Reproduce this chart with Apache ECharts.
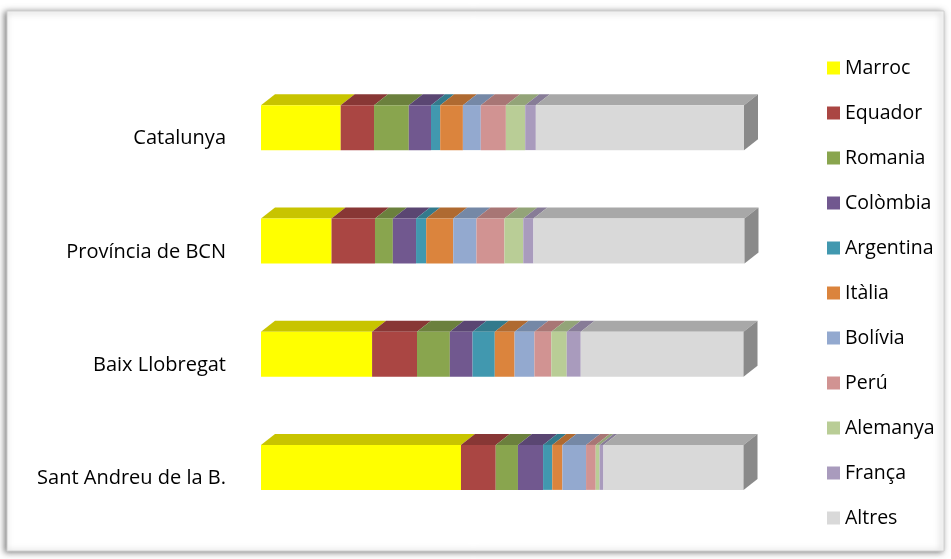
<!DOCTYPE html>
<html>
<head>
<meta charset="utf-8">
<script src="https://cdn.jsdelivr.net/npm/echarts@6/dist/echarts.min.js"></script>
<style>html,body{margin:0;padding:0;background:#fff;}#c{width:951px;height:559px;}</style>
</head>
<body>
<div id="c"></div>
<script>
const categories = ['Catalunya', 'Província de BCN', 'Baix Llobregat', 'Sant Andreu de la B.'];
const seriesNames = ['Marroc','Equador','Romania','Colòmbia','Argentina','Itàlia','Bolívia','Perú','Alemanya','França','Altres'];
const marroc    = [16.5, 14.6, 23.0, 41.4];
const equador   = [6.9, 9.0, 9.3, 7.2];
const romania   = [7.2, 3.7, 6.8, 4.6];
const colombia  = [4.6, 4.8, 4.7, 5.2];
const argentina = [1.9, 2.1, 4.6, 1.9];
const italia    = [4.7, 5.6, 4.1, 2.1];
const bolivia   = [3.7, 4.8, 4.1, 4.9];
const peru      = [5.2, 5.8, 3.5, 2.0];
const alemanya  = [4.0, 3.9, 3.2, 0.8];
const franca    = [2.2, 2.1, 2.9, 0.8];
const altres    = [43.1, 43.7, 33.7, 29.0];
const seriesValues = [marroc, equador, romania, colombia, argentina, italia, bolivia, peru, alemanya, franca, altres];

const frontColors = ['#FFFF00','#AA4643','#89A54E','#71588F','#4198AF','#DB843D','#93A9CF','#D19392','#B9CD96','#A99BBD','#D9D9D9'];
const topColors   = ['#C8C400','#883735','#6B803D','#5A4672','#337A8C','#AF6A31','#7588A6','#A87675','#93A478','#877C97','#A8A8A8'];
const sideColor = '#8A8A8A';

const DX = 14, DY = 11, BH = 45;

const cum = categories.map(() => 0);
const series = seriesValues.map((vals, si) => {
  const data = vals.map((v, ci) => {
    const s = cum[ci];
    cum[ci] += v;
    return [s, s + v, ci];
  });
  const isLast = si === seriesValues.length - 1;
  return {
    name: seriesNames[si],
    type: 'custom',
    itemStyle: { color: frontColors[si] },
    encode: { x: [0, 1], y: 2 },
    data: data,
    renderItem: function (params, api) {
      const p0 = api.coord([api.value(0), api.value(2)]);
      const p1 = api.coord([api.value(1), api.value(2)]);
      const x0 = p0[0], x1 = p1[0];
      const yT = p0[1] - BH / 2, yB = p0[1] + BH / 2;
      const children = [
        { type: 'polygon', shape: { points: [[x0, yT], [x1, yT], [x1 + DX, yT - DY], [x0 + DX, yT - DY]] },
          style: { fill: topColors[si] } },
        { type: 'rect', shape: { x: x0, y: yT, width: x1 - x0, height: BH },
          style: { fill: frontColors[si] } }
      ];
      if (isLast) {
        children.push({ type: 'polygon', shape: { points: [[x1, yT], [x1 + DX, yT - DY], [x1 + DX, yB - DY], [x1, yB]] },
          style: { fill: sideColor } });
      }
      return { type: 'group', children: children };
    }
  };
});

const chart = echarts.init(document.getElementById('c'));
chart.setOption({
  animation: false,
  backgroundColor: '#ffffff',
  graphic: [{
    type: 'rect', z: -10,
    shape: { x: 7, y: 11, width: 937, height: 540 },
    style: { fill: '#ffffff', stroke: '#d0d0d0', lineWidth: 1,
      shadowColor: 'rgba(0,0,0,0.5)', shadowBlur: 6, shadowOffsetX: -2, shadowOffsetY: 1 }
  }],
  grid: [
    { left: 261, width: 483, top: 71, height: 453, containLabel: false },
    { left: 261, width: 483, top: 82, height: 453, containLabel: false }
  ],
  xAxis: [
    { type: 'value', min: 0, max: 100, show: false, gridIndex: 0 },
    { type: 'value', min: 0, max: 100, show: false, gridIndex: 1 }
  ],
  yAxis: [
    { type: 'category', data: categories, inverse: true, gridIndex: 0,
      axisLine: { show: false }, axisTick: { show: false }, splitLine: { show: false }, axisLabel: { show: false } },
    { type: 'category', data: categories, inverse: true, gridIndex: 1,
      axisLine: { show: false }, axisTick: { show: false }, splitLine: { show: false },
      axisLabel: { margin: 35, color: '#000', fontSize: 20, fontFamily: 'Open Sans' } }
  ],
  legend: {
    orient: 'vertical', left: 822, top: 53,
    itemWidth: 13, itemHeight: 13, itemGap: 25,
    icon: 'rect',
    textStyle: { fontSize: 19.5, fontFamily: 'Open Sans', color: '#000', lineHeight: 20 },
    data: seriesNames
  },
  series: series
});
</script>
</body>
</html>
